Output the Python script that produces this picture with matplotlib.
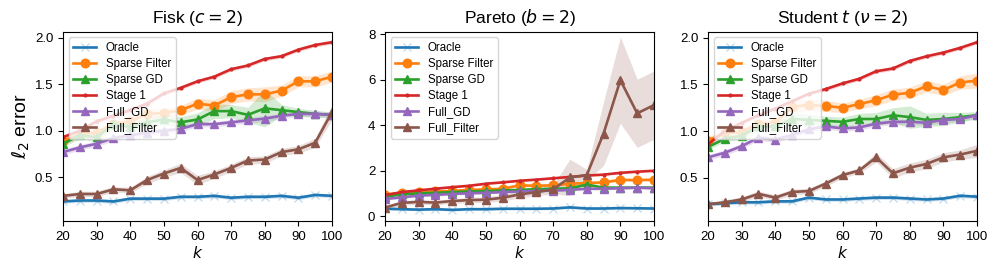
import numpy as np
import matplotlib
matplotlib.use("Agg")
import matplotlib.pyplot as plt

plt.rcParams['font.family'] = ['Liberation Sans', 'DejaVu Sans']
plt.rcParams['mathtext.fontset'] = 'dejavusans'

k = [20, 25, 30, 35, 40, 45, 50, 55, 60, 65, 70, 75, 80, 85, 90, 95, 100]
titles = ["Fisk ($c = 2$)", "Pareto ($b = 2$)", "Student $t$ ($\\nu = 2$)"]
labels = ["Oracle", "Sparse Filter", "Sparse GD", "Stage 1", "Full_GD", "Full_Filter"]

# Fisk
fisk_oracle = [0.24, 0.25, 0.25, 0.24, 0.27, 0.27, 0.27, 0.29, 0.29, 0.30, 0.28, 0.29, 0.29, 0.30, 0.28, 0.31, 0.30]
fisk_sfilter = [0.89, 0.96, 0.98, 1.07, 1.10, 1.18, 1.19, 1.22, 1.29, 1.27, 1.36, 1.39, 1.39, 1.43, 1.53, 1.53, 1.58]
fisk_sgd = [0.86, 0.95, 0.93, 1.07, 1.04, 1.09, 1.12, 1.09, 1.12, 1.21, 1.21, 1.17, 1.24, 1.22, 1.20, 1.18, 1.17]
fisk_stage1 = [0.93, 1.00, 1.10, 1.16, 1.22, 1.29, 1.40, 1.46, 1.53, 1.58, 1.66, 1.70, 1.77, 1.80, 1.87, 1.92, 1.95]
fisk_fgd = [0.77, 0.82, 0.86, 0.92, 0.95, 0.98, 1.00, 1.02, 1.07, 1.07, 1.09, 1.11, 1.13, 1.16, 1.18, 1.18, 1.17]
fisk_ffilter = [0.30, 0.32, 0.32, 0.37, 0.36, 0.47, 0.54, 0.60, 0.47, 0.53, 0.60, 0.68, 0.69, 0.77, 0.80, 0.87, 1.20]

# Pareto
par_oracle = [0.32, 0.30, 0.28, 0.30, 0.27, 0.30, 0.30, 0.32, 0.32, 0.32, 0.33, 0.38, 0.33, 0.33, 0.35, 0.34, 0.33]
par_sfilter = [0.93, 1.03, 1.05, 1.08, 1.10, 1.15, 1.17, 1.20, 1.35, 1.33, 1.35, 1.42, 1.45, 1.48, 1.59, 1.58, 1.60]
par_sgd = [0.85, 0.95, 1.00, 1.02, 1.05, 1.08, 1.10, 1.12, 1.15, 1.18, 1.20, 1.22, 1.38, 1.25, 1.25, 1.25, 1.25]
par_stage1 = [0.92, 1.05, 1.13, 1.20, 1.27, 1.33, 1.42, 1.48, 1.55, 1.60, 1.66, 1.72, 1.78, 1.82, 1.90, 1.95, 1.99]
par_fgd = [0.75, 0.82, 0.90, 0.93, 0.97, 1.00, 1.02, 1.05, 1.08, 1.10, 1.12, 1.15, 1.20, 1.20, 1.22, 1.25, 1.22]
par_ffilter = [0.37, 0.58, 0.62, 0.59, 0.66, 0.70, 0.72, 0.80, 0.95, 1.05, 1.17, 1.70, 1.80, 3.63, 5.98, 4.52, 4.88]

# Student t
st_oracle = [0.22, 0.23, 0.24, 0.24, 0.25, 0.25, 0.29, 0.27, 0.27, 0.28, 0.29, 0.29, 0.28, 0.27, 0.28, 0.31, 0.30]
st_sfilter = [0.90, 0.98, 0.99, 1.08, 1.09, 1.26, 1.28, 1.27, 1.25, 1.29, 1.33, 1.39, 1.41, 1.48, 1.44, 1.52, 1.54]
st_sgd = [0.83, 0.92, 0.95, 1.05, 1.05, 1.13, 1.12, 1.11, 1.10, 1.13, 1.13, 1.17, 1.15, 1.12, 1.13, 1.15, 1.17]
st_stage1 = [0.86, 1.00, 1.09, 1.17, 1.24, 1.32, 1.40, 1.45, 1.51, 1.56, 1.64, 1.67, 1.75, 1.80, 1.84, 1.89, 1.95]
st_fgd = [0.72, 0.77, 0.84, 0.93, 0.91, 0.96, 1.02, 1.05, 1.03, 1.04, 1.08, 1.10, 1.10, 1.09, 1.12, 1.13, 1.17]
st_ffilter = [0.22, 0.24, 0.27, 0.33, 0.29, 0.35, 0.36, 0.44, 0.53, 0.58, 0.72, 0.55, 0.61, 0.65, 0.72, 0.75, 0.79]

# shaded band half-widths
fisk_err = {
    "Oracle": [0.02] * 17,
    "Sparse Filter": [0.04, 0.04, 0.05, 0.05, 0.05, 0.05, 0.05, 0.05, 0.06, 0.06, 0.07, 0.07, 0.08, 0.06, 0.06, 0.06, 0.06],
    "Sparse GD": [0.03, 0.04, 0.05, 0.05, 0.05, 0.05, 0.06, 0.06, 0.07, 0.08, 0.07, 0.08, 0.20, 0.06, 0.04, 0.04, 0.03],
    "Stage 1": [0.02, 0.03, 0.03, 0.03, 0.03, 0.03, 0.02, 0.02, 0.02, 0.02, 0.02, 0.02, 0.02, 0.02, 0.02, 0.02, 0.02],
    "Full_GD": [0.03] * 17,
    "Full_Filter": [0.02, 0.03, 0.03, 0.03, 0.03, 0.04, 0.04, 0.05, 0.05, 0.04, 0.04, 0.04, 0.04, 0.04, 0.04, 0.05, 0.08],
}
par_err = {
    "Oracle": [0.05] * 17,
    "Sparse Filter": [0.05, 0.05, 0.05, 0.05, 0.05, 0.05, 0.05, 0.05, 0.06, 0.06, 0.06, 0.06, 0.08, 0.06, 0.06, 0.06, 0.06],
    "Sparse GD": [0.05] * 17,
    "Stage 1": [0.03] * 17,
    "Full_GD": [0.05] * 17,
    "Full_Filter": [0.10, 0.10, 0.10, 0.10, 0.10, 0.12, 0.12, 0.15, 0.15, 0.15, 0.20, 0.80, 0.25, 1.40, 1.90, 1.50, 1.50],
}
st_err = {
    "Oracle": [0.02] * 17,
    "Sparse Filter": [0.04, 0.04, 0.04, 0.04, 0.05, 0.06, 0.06, 0.06, 0.05, 0.05, 0.06, 0.06, 0.06, 0.06, 0.06, 0.07, 0.08],
    "Sparse GD": [0.03, 0.03, 0.04, 0.05, 0.05, 0.07, 0.06, 0.05, 0.05, 0.06, 0.07, 0.08, 0.12, 0.07, 0.07, 0.05, 0.04],
    "Stage 1": [0.02] * 17,
    "Full_GD": [0.03] * 17,
    "Full_Filter": [0.02, 0.02, 0.03, 0.03, 0.03, 0.03, 0.03, 0.03, 0.03, 0.03, 0.05, 0.05, 0.05, 0.05, 0.05, 0.05, 0.07],
}

panels = [
    ([fisk_oracle, fisk_sfilter, fisk_sgd, fisk_stage1, fisk_fgd, fisk_ffilter], fisk_err, (0.03, 2.065), [0.5, 1.0, 1.5, 2.0]),
    ([par_oracle, par_sfilter, par_sgd, par_stage1, par_fgd, par_ffilter], par_err, (-0.22, 8.12), [0, 2, 4, 6, 8]),
    ([st_oracle, st_sfilter, st_sgd, st_stage1, st_fgd, st_ffilter], st_err, (0.04, 2.065), [0.5, 1.0, 1.5, 2.0]),
]

colors = ["#1f77b4", "#ff7f0e", "#2ca02c", "#d62728", "#9467bd", "#8c564b"]
markers = ["x", "o", "^", ".", "^", "^"]
msizes = [6, 6.2, 6, 4, 6, 6]

fig = plt.figure(figsize=(9.96, 2.70), dpi=100)
lefts = [63, 385, 708]
rights = [332, 654, 977]
top, bottom = 31.5, 221
W, H = 996, 270

for i, (series, errs, ylim, yticks) in enumerate(panels):
    ax = fig.add_axes([lefts[i] / W, 1 - bottom / H, (rights[i] - lefts[i]) / W, (bottom - top) / H])
    x = np.array(k)
    for j, (lab, y) in enumerate(zip(labels, series)):
        y = np.array(y)
        e = np.array(errs[lab])
        ax.fill_between(x, y - e, y + e, color=colors[j], alpha=0.2, lw=0)
        if lab == "Oracle":
            ax.plot(x, y, color=colors[j], lw=1.9, marker="x", ms=6,
                    mec=(0.12, 0.47, 0.71, 0.25), mew=1.0, label=lab)
        else:
            ax.plot(x, y, color=colors[j], lw=1.9, marker=markers[j], ms=msizes[j], label=lab)
    ax.set_xlim(20, 100)
    ax.set_ylim(*ylim)
    ax.set_xticks([20, 30, 40, 50, 60, 70, 80, 90, 100])
    ax.set_yticks(yticks)
    ax.tick_params(labelsize=9.5, length=3.5, width=0.8)
    for s in ax.spines.values():
        s.set_linewidth(0.8)
    ax.set_xlabel("$k$", fontsize=11, labelpad=2)
    ax.set_title(titles[i], fontsize=12.5, pad=6)
    ax.legend(loc="upper left", fontsize=8.3, handlelength=2, borderpad=0.4,
              labelspacing=0.35, framealpha=0.8)
    if i == 0:
        ax.set_ylabel("$\\ell_2$ error", fontsize=14, labelpad=2)

fig.savefig("out.png", dpi=100)
